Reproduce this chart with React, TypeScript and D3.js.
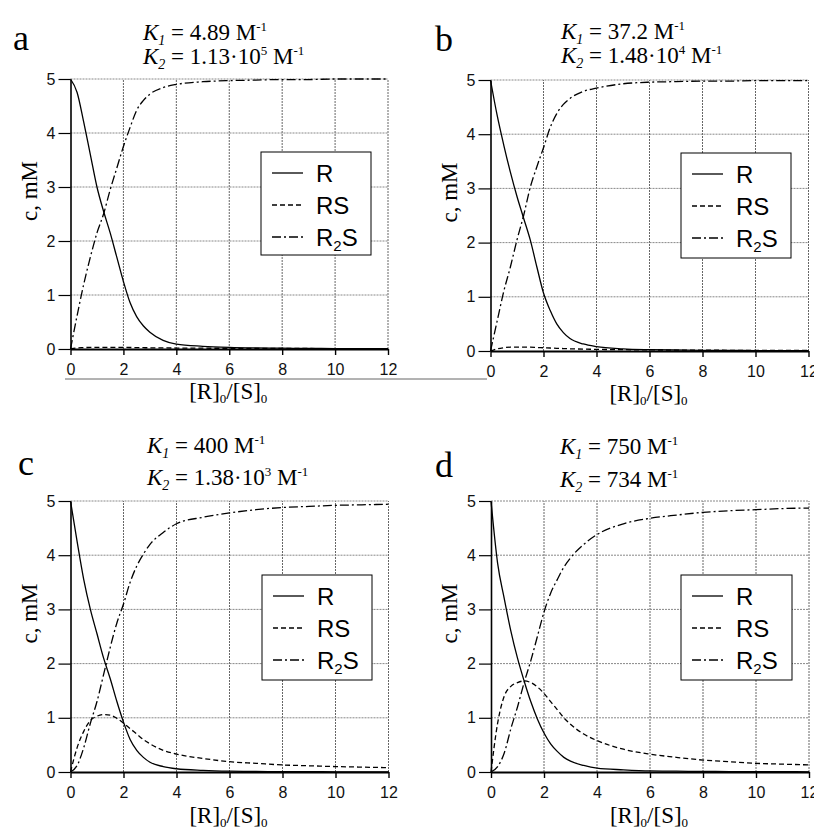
import React, { useRef, useEffect } from 'react';
import * as d3 from 'd3';

// x values ([R]0/[S]0) shared by every curve
const ratio = [0, 0.25, 0.5, 0.75, 1, 1.25, 1.5, 1.75, 2, 2.25, 2.5, 2.75, 3, 3.5, 4, 5, 6, 7, 8, 9, 10, 11, 12];

// panel a
const aR = [5, 4.75, 4.2, 3.6, 3.0, 2.55, 2.15, 1.7, 1.25, 0.86, 0.6, 0.43, 0.31, 0.16, 0.09, 0.05, 0.03, 0.02, 0.015, 0.01, 0.008, 0.006, 0.005];
const aRS = [0, 0.02, 0.025, 0.03, 0.03, 0.03, 0.03, 0.03, 0.03, 0.028, 0.026, 0.024, 0.022, 0.02, 0.018, 0.015, 0.013, 0.011, 0.01, 0.009, 0.008, 0.007, 0.006];
const aR2S = [0, 0.62, 1.2, 1.7, 2.15, 2.5, 2.95, 3.35, 3.75, 4.1, 4.42, 4.6, 4.72, 4.84, 4.9, 4.95, 4.97, 4.98, 4.99, 4.99, 5, 5, 5];

// panel b
const bR = [5, 4.35, 3.8, 3.3, 2.85, 2.45, 2.05, 1.55, 1.07, 0.75, 0.5, 0.34, 0.23, 0.13, 0.08, 0.04, 0.025, 0.018, 0.012, 0.01, 0.008, 0.006, 0.005];
const bRS = [0, 0.04, 0.06, 0.07, 0.07, 0.07, 0.07, 0.065, 0.06, 0.055, 0.05, 0.045, 0.04, 0.035, 0.03, 0.025, 0.02, 0.017, 0.015, 0.013, 0.012, 0.011, 0.01];
const bR2S = [0, 0.55, 1.1, 1.55, 2.05, 2.5, 3.02, 3.4, 3.75, 4.12, 4.38, 4.55, 4.66, 4.79, 4.85, 4.93, 4.96, 4.97, 4.98, 4.98, 4.99, 4.99, 4.99];

// panel c
const cR = [5, 4.25, 3.55, 3.0, 2.55, 2.1, 1.72, 1.3, 0.92, 0.6, 0.4, 0.27, 0.18, 0.1, 0.06, 0.03, 0.015, 0.01, 0.007, 0.005, 0.004, 0.003, 0.003];
const cRS = [0, 0.45, 0.75, 0.95, 1.03, 1.06, 1.05, 0.99, 0.9, 0.8, 0.7, 0.6, 0.52, 0.4, 0.33, 0.25, 0.19, 0.16, 0.13, 0.115, 0.1, 0.09, 0.08];
const cR2S = [0, 0.12, 0.45, 0.9, 1.3, 1.8, 2.3, 2.75, 3.1, 3.5, 3.8, 4.02, 4.2, 4.42, 4.58, 4.7, 4.78, 4.84, 4.88, 4.9, 4.92, 4.93, 4.94];

// panel d
const dR = [5, 3.85, 3.2, 2.6, 2.1, 1.68, 1.3, 0.98, 0.72, 0.52, 0.38, 0.27, 0.2, 0.12, 0.07, 0.04, 0.02, 0.015, 0.01, 0.008, 0.006, 0.005, 0.004];
const dRS = [0, 0.9, 1.4, 1.58, 1.65, 1.68, 1.65, 1.57, 1.45, 1.3, 1.15, 1.0, 0.88, 0.7, 0.58, 0.42, 0.33, 0.27, 0.22, 0.19, 0.16, 0.145, 0.13];
const dR2S = [0, 0.1, 0.35, 0.8, 1.2, 1.65, 2.05, 2.5, 2.95, 3.3, 3.55, 3.78, 3.95, 4.2, 4.38, 4.58, 4.68, 4.74, 4.79, 4.82, 4.84, 4.86, 4.87];

const xTicks = [0, 2, 4, 6, 8, 10, 12];
const yTicks = [0, 1, 2, 3, 4, 5];

const letters = ['a', 'b', 'c', 'd'];
const k1Values = ['4.89', '37.2', '400', '750'];
const k2Mantissa = ['1.13', '1.48', '1.38', '734'];
const k2Exponent = ['5', '4', '3', null];
const seriesR = [aR, bR, cR, dR];
const seriesRS = [aRS, bRS, cRS, dRS];
const seriesR2S = [aR2S, bR2S, cR2S, dR2S];

// geometry of each panel (pixel positions)
const layouts = [
  { x0: 70.5, x1: 388, y0: 349, y1: 79, lx: 261, ly: 152, lw: 110, lh: 103, tx: 143, t1: 40, t2: 64, letX: 13, letY: 50, xlabY: 399 },
  { x0: 490.5, x1: 808.5, y0: 351, y1: 80, lx: 681, ly: 153, lw: 110, lh: 105, tx: 561, t1: 39, t2: 63, letX: 435, letY: 51, xlabY: 401 },
  { x0: 70.5, x1: 388.5, y0: 772, y1: 501, lx: 262, ly: 575, lw: 110, lh: 105, tx: 147, t1: 453, t2: 485, letX: 18, letY: 475, xlabY: 823 },
  { x0: 491, x1: 809, y0: 772, y1: 501, lx: 681, ly: 575, lw: 111, lh: 105, tx: 560, t1: 454, t2: 487, letX: 435, letY: 477, xlabY: 823 },
];

const SERIF = "'Liberation Serif', 'Times New Roman', serif";
const SANS = "'Liberation Sans', Arial, sans-serif";
const DASH = '5,3';
const DASHDOT = '9,3,2,3';

const Panel = ({ idx }) => {
  const ref = useRef(null);

  useEffect(() => {
    const lay = layouts[idx];
    const g = d3.select(ref.current);
    g.selectAll('*').remove();

    const x = d3.scaleLinear().domain([0, 12]).range([lay.x0, lay.x1]);
    const y = d3.scaleLinear().domain([0, 5]).range([lay.y0, lay.y1]);

    // dotted grid
    g.append('g').selectAll('line')
      .data(xTicks.filter(t => t > 0))
      .join('line')
      .attr('x1', d => x(d)).attr('x2', d => x(d))
      .attr('y1', y(0)).attr('y2', y(5))
      .attr('stroke', '#666').attr('stroke-width', 1).attr('stroke-dasharray', '2,1');
    g.append('g').selectAll('line')
      .data(yTicks.filter(t => t > 0))
      .join('line')
      .attr('x1', x(0)).attr('x2', x(12))
      .attr('y1', d => y(d)).attr('y2', d => y(d))
      .attr('stroke', '#888').attr('stroke-width', 1).attr('stroke-dasharray', '2,1');

    // axes
    const yAxis = g.append('g')
      .attr('transform', `translate(${lay.x0},0)`)
      .call(d3.axisLeft(y).tickValues(yTicks).tickSize(12).tickSizeOuter(0).tickPadding(3).tickFormat(d3.format('d')));
    yAxis.select('.domain').attr('stroke-width', 1.6);
    yAxis.selectAll('.tick line').attr('stroke-width', 1.2);
    yAxis.selectAll('text')
      .style('font-family', SANS).style('font-size', '16px').attr('fill', '#111');

    const xAxis = g.append('g')
      .attr('transform', `translate(0,${lay.y0})`)
      .call(d3.axisBottom(x).tickValues(xTicks).tickSize(6).tickSizeOuter(0).tickPadding(9).tickFormat(d3.format('d')));
    xAxis.select('.domain').attr('stroke-width', 2);
    xAxis.selectAll('.tick line').attr('stroke-width', 1.4);
    xAxis.selectAll('text')
      .style('font-family', SANS).style('font-size', '16px').attr('fill', '#111');

    // curves
    const line = d3.line()
      .x((d, i) => x(ratio[i]))
      .y(d => y(d))
      .curve(d3.curveMonotoneX);

    const curves = [
      { data: seriesR[idx], dash: null },
      { data: seriesRS[idx], dash: DASH },
      { data: seriesR2S[idx], dash: DASHDOT },
    ];
    curves.forEach(c => {
      g.append('path')
        .attr('d', line(c.data))
        .attr('fill', 'none')
        .attr('stroke', '#000')
        .attr('stroke-width', 1.3)
        .attr('stroke-dasharray', c.dash);
    });

    // legend
    const leg = g.append('g').attr('transform', `translate(${lay.lx},${lay.ly})`);
    leg.append('rect')
      .attr('width', lay.lw).attr('height', lay.lh)
      .attr('fill', '#fff').attr('stroke', '#000').attr('stroke-width', 1);
    const rows = [
      { name: 'R', sub: null, dash: null },
      { name: 'RS', sub: null, dash: DASH },
      { name: 'R', sub: '2', tail: 'S', dash: DASHDOT },
    ];
    rows.forEach((r, i) => {
      const ry = 21 + i * 32;
      leg.append('line')
        .attr('x1', 11).attr('x2', 42).attr('y1', ry).attr('y2', ry)
        .attr('stroke', '#000').attr('stroke-width', 1.3)
        .attr('stroke-dasharray', r.dash);
      const t = leg.append('text')
        .attr('x', 55).attr('y', ry + 9)
        .attr('font-family', SANS).attr('font-size', 24);
      t.append('tspan').text(r.name);
      if (r.sub) {
        t.append('tspan').attr('font-size', 15).attr('dy', 5).text(r.sub);
        t.append('tspan').attr('dy', -5).text(r.tail);
      }
    });

    // panel letter
    g.append('text')
      .attr('x', lay.letX).attr('y', lay.letY)
      .attr('font-family', SERIF).attr('font-size', 36)
      .text(letters[idx]);

    // constants
    const t1 = g.append('text').attr('x', lay.tx).attr('y', lay.t1)
      .attr('font-family', SERIF).attr('font-size', 23);
    t1.append('tspan').attr('font-style', 'italic').text('K');
    t1.append('tspan').attr('font-style', 'italic').attr('font-size', 14).attr('dy', 5).text('1');
    t1.append('tspan').attr('dy', -5).text(` = ${k1Values[idx]} M`);
    t1.append('tspan').attr('font-size', 13).attr('dy', -9).text('-1');

    const t2 = g.append('text').attr('x', lay.tx).attr('y', lay.t2)
      .attr('font-family', SERIF).attr('font-size', 23);
    t2.append('tspan').attr('font-style', 'italic').text('K');
    t2.append('tspan').attr('font-style', 'italic').attr('font-size', 14).attr('dy', 5).text('2');
    if (k2Exponent[idx]) {
      t2.append('tspan').attr('dy', -5).text(` = ${k2Mantissa[idx]}\u00B710`);
      t2.append('tspan').attr('font-size', 13).attr('dy', -9).text(k2Exponent[idx]);
      t2.append('tspan').attr('dy', 9).text(' M');
    } else {
      t2.append('tspan').attr('dy', -5).text(` = ${k2Mantissa[idx]} M`);
    }
    t2.append('tspan').attr('font-size', 13).attr('dy', -9).text('-1');

    // y-axis label
    const ymid = (lay.y0 + lay.y1) / 2 - 23;
    g.append('text')
      .attr('transform', `translate(${lay.x0 - 34},${ymid}) rotate(-90)`)
      .attr('text-anchor', 'middle')
      .attr('font-family', SERIF).attr('font-size', 23)
      .text('c, mM');

    // x-axis label
    const xl = g.append('text')
      .attr('x', x(6) - 1).attr('y', lay.xlabY)
      .attr('text-anchor', 'middle')
      .attr('font-family', SERIF).attr('font-size', 23);
    xl.append('tspan').text('[R]');
    xl.append('tspan').attr('font-size', 13).attr('dy', 4).text('0');
    xl.append('tspan').attr('dy', -4).text('/[S]');
    xl.append('tspan').attr('font-size', 13).attr('dy', 4).text('0');
  }, [idx]);

  return <g ref={ref}></g>;
};

const App = () => {
  return (
    <svg
      width={814}
      height={831}
      style={{ position: 'absolute', left: 0, top: 0, background: '#fff' }}
    >
      <rect width={814} height={831} fill="#fff" />
      {/* stray rule under panel a in the scanned figure */}
      <line x1={65} x2={487} y1={379} y2={379} stroke="#666" strokeWidth={1} />
      {letters.map((l, i) => (
        <Panel key={l} idx={i} />
      ))}
    </svg>
  );
};

export default App;
